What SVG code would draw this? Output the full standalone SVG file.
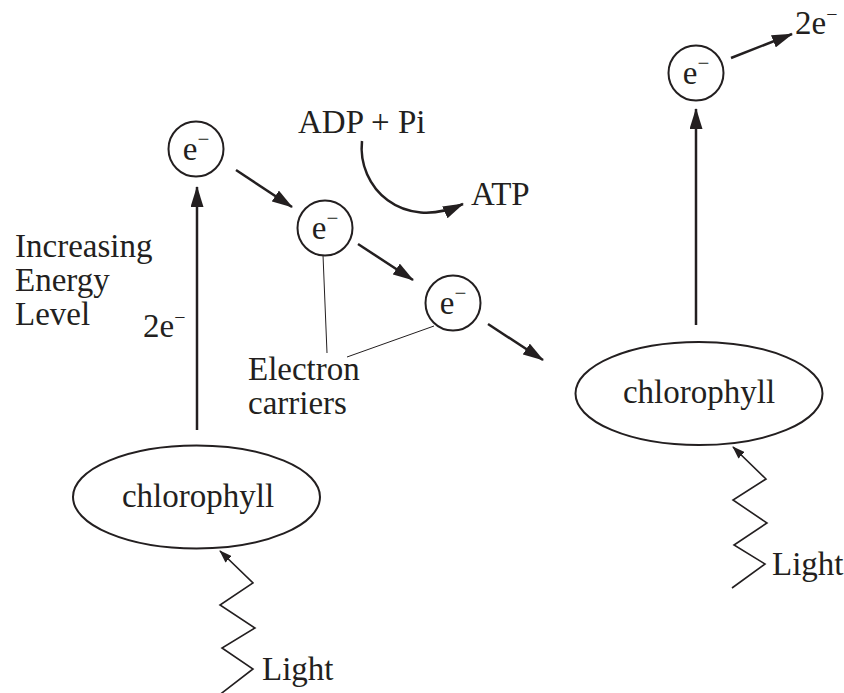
<svg xmlns="http://www.w3.org/2000/svg" width="844" height="693" viewBox="0 0 844 693">
<style>
text { font-family: "Liberation Serif", "Times New Roman", serif; font-size: 33px; fill: #231f20; }
.node { fill: none; stroke: #231f20; stroke-width: 2; }
.arrow { fill: none; stroke: #231f20; stroke-width: 2.5; marker-end: url(#big); }
.thin { fill: none; stroke: #231f20; stroke-width: 1; }
.light { fill: none; stroke: #231f20; stroke-width: 1.6; marker-end: url(#small); }
.mid { text-anchor: middle; }
</style>
<defs>
<marker id="big" viewBox="0 0 21 13" refX="20" refY="6.5" markerWidth="21" markerHeight="13" markerUnits="userSpaceOnUse" orient="auto">
<path d="M0,0 L21,6.5 L0,13 z" fill="#231f20"/>
</marker>
<marker id="small" viewBox="0 0 13 9" refX="12" refY="4.5" markerWidth="13" markerHeight="9" markerUnits="userSpaceOnUse" orient="auto">
<path d="M0,0 L13,4.5 L0,9 z" fill="#231f20"/>
</marker>
</defs>
<rect width="844" height="693" fill="#ffffff"/>

<g id="connectors">
<line class="arrow" x1="197" y1="430" x2="197" y2="187"/>
<line class="arrow" x1="236" y1="170" x2="292" y2="207"/>
<line class="arrow" x1="358" y1="244" x2="413" y2="280"/>
<line class="arrow" x1="488" y1="324" x2="543" y2="360"/>
<line class="arrow" x1="696" y1="325" x2="696" y2="109"/>
<line class="arrow" x1="731" y1="58" x2="792" y2="34"/>
<path class="arrow" d="M362,141 C357,187 402,232 463,204"/>
<line class="thin" x1="323" y1="255" x2="327" y2="353"/>
<line class="thin" x1="434" y1="326" x2="347" y2="357"/>
<polyline class="light" points="218,696 253,669 222,648 255,628 220,605 253,583 220,551"/>
<polyline class="light" points="732,588 765,564 734,545 767,523 733,500 766,479 733,447"/>
</g>

<g id="carrier1">
<circle class="node" cx="196" cy="149" r="27.5"/>
<text class="mid" x="196" y="160">e<tspan font-size="21" dy="-14">−</tspan></text>
</g>
<g id="carrier2">
<circle class="node" cx="325" cy="228" r="27.5"/>
<text class="mid" x="325" y="239">e<tspan font-size="21" dy="-14">−</tspan></text>
</g>
<g id="carrier3">
<circle class="node" cx="453" cy="303" r="27.5"/>
<text class="mid" x="453" y="314">e<tspan font-size="21" dy="-14">−</tspan></text>
</g>
<g id="carrier4">
<circle class="node" cx="696" cy="73" r="27.5"/>
<text class="mid" x="696" y="84">e<tspan font-size="21" dy="-14">−</tspan></text>
</g>

<g id="chlorophyll1">
<ellipse class="node" cx="196.5" cy="497" rx="123.5" ry="51.5"/>
<text class="mid" x="198" y="507">chlorophyll</text>
</g>
<g id="chlorophyll2">
<ellipse class="node" cx="699" cy="393.5" rx="123.5" ry="51.5"/>
<text class="mid" x="699" y="403">chlorophyll</text>
</g>

<g id="labels">
<text x="298" y="133">ADP + Pi</text>
<text x="471" y="205">ATP</text>
<text x="15" y="257">Increasing</text>
<text x="15" y="291">Energy</text>
<text x="15" y="325">Level</text>
<text x="143" y="337">2e<tspan font-size="20" dy="-13">−</tspan></text>
<text x="795" y="34">2e<tspan font-size="20" dy="-13">−</tspan></text>
<text x="248" y="380">Electron</text>
<text x="248" y="414">carriers</text>
<text x="262" y="680">Light</text>
<text x="772" y="575">Light</text>
</g>
</svg>
